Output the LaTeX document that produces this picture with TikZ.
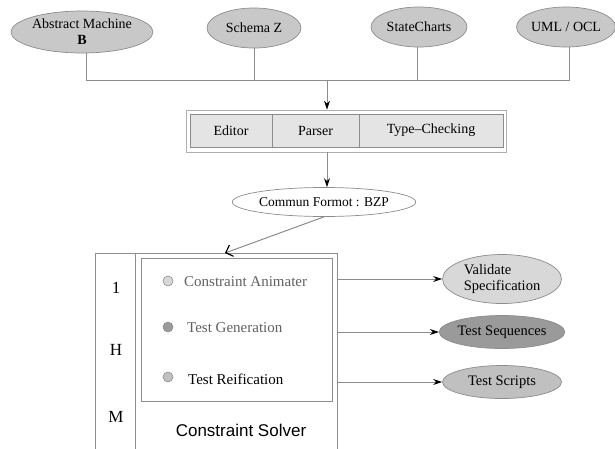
\documentclass[tikz,border=0pt]{standalone}
\usepackage{fontspec}
\setmainfont{Liberation Serif}
\newfontfamily\solverfont{Liberation Sans}
\usetikzlibrary{shapes.geometric,arrows.meta}
\definecolor{linegray}{HTML}{8C8C8C}
\definecolor{ellgray}{HTML}{C8C8C8}
\definecolor{cellgray}{HTML}{E4E4E4}
\definecolor{lightell}{HTML}{D8D8D8}
\definecolor{darkell}{HTML}{9A9A9A}
\definecolor{midell}{HTML}{C0C0C0}
\definecolor{textgray}{HTML}{606060}
\begin{document}
\begin{tikzpicture}[x=1pt,y=-1pt,
  conn/.style={draw=linegray,line width=0.8pt},
  arr/.style={conn,-{Stealth[length=9pt,width=6pt,black]}},
  barb/.style={conn,line width=1pt,-{Straight Barb[length=6pt,width=12pt,black,line width=1.2pt]}},
  oval/.style={ellipse,draw=linegray,line width=0.7pt,inner sep=0pt,font=\fontsize{14}{17}\selectfont},
  cell/.style={draw=linegray,fill=cellgray,minimum height=33pt,inner sep=0pt,font=\fontsize{14}{16}\selectfont},
  dot/.style={circle,draw=linegray,line width=0.6pt,minimum size=10pt,inner sep=0pt},
  item/.style={anchor=west,inner sep=0pt,font=\fontsize{15}{16}\selectfont},
  letter/.style={inner sep=0pt,font=\fontsize{17}{18}\selectfont},
]
\useasboundingbox (0,0) rectangle (615,448);

% top ellipses
\node[oval,fill=ellgray,minimum width=142pt,minimum height=42pt,align=center] (am) at (82,32) {Abstract Machine\\[-1pt]\textbf{B}};
\node[oval,fill=ellgray,minimum width=94pt,minimum height=40pt] (sz) at (254,28) {Schema Z};
\node[oval,fill=ellgray,minimum width=96pt,minimum height=40pt] (sc) at (419,27) {StateCharts};
\node[oval,fill=ellgray,minimum width=94pt,minimum height=40pt] (uml) at (566,27) {UML / OCL};

\coordinate (bus) at (327,80);
\coordinate (amfoot) at (86,80);
\coordinate (umlfoot) at (569,80);
\draw[conn] (amfoot |- am.south) -- (amfoot) -- (umlfoot) -- (umlfoot |- uml.south);
\draw[conn] (sz.south) -- (sz.south |- bus);
\draw[conn] (417,0 |- sc.south) -- (417,80);

% tools box
\node[draw=linegray!70,line width=0.8pt,minimum width=320pt,minimum height=42pt,inner sep=0pt] (tools) at (346,131) {};
\node[cell,minimum width=82pt] (editor) at (231,130.5) {Editor};
\node[cell,minimum width=87pt] (parser) at (315.5,130.5) {Parser};
\node[cell,minimum width=144pt] (tc) at (431,130.5) {Type--Checking};
\draw[arr] (bus) -- (bus |- tools.north);

% common format
\node[oval,fill=white,minimum width=170pt,minimum height=29pt,font=\fontsize{13.5}{15}\selectfont] (cf) at (324,202) {Commun Formot : BZP};
\draw[arr] (bus |- tools.south) -- (bus |- cf.north);

% IHM / solver box
\draw[conn] (95,470) -- (95,253) -- (337,253) -- (337,470);
\draw[conn] (135,253) -- (135,470);
\coordinate (solvertop) at (225,253);
\coordinate (solverright) at (337,330);
\draw[barb] (cf.south) -- (solvertop);
\node[draw=linegray,line width=0.8pt,minimum width=191pt,minimum height=143pt,inner sep=0pt] (inner) at (236.5,329.5) {};

\node[letter] (li) at (116,288) {1};
\node[letter] (lh) at (116,350) {H};
\node[letter] (lm) at (116,417) {M};

\node[dot,fill=lightell] (d1) at (168,281) {};
\node[dot,fill=darkell] (d2) at (168,327) {};
\node[dot,fill=midell] (d3) at (168,377) {};
\node[item,text=textgray] (t1) at (184,282) {Constraint Animater};
\node[item,text=textgray] (t2) at (187,328) {Test Generation};
\node[item] (t3) at (188,379) {Test Reification};

\node[inner sep=0pt,font=\solverfont\fontsize{17}{18}\selectfont] (solver) at (241,430) {Constraint Solver};

% outputs
\node[oval,fill=lightell,minimum width=119pt,minimum height=49pt,align=left,font=\fontsize{14.5}{16.5}\selectfont] (vs) at (502,279) {Validate\\Specification};
\node[oval,fill=darkell,minimum width=119pt,minimum height=33pt,font=\fontsize{14.5}{16}\selectfont] (ts) at (502,332) {Test Sequences};
\node[oval,fill=midell,minimum width=119pt,minimum height=33pt,font=\fontsize{14.5}{16}\selectfont] (tsc) at (502,382) {Test Scripts};

\draw[arr] (vs.west -| solverright) -- (vs.west);
\draw[arr] (ts.west -| solverright) -- (ts.west);
\draw[arr] (tsc.west -| solverright) -- (tsc.west);
\end{tikzpicture}
\end{document}
